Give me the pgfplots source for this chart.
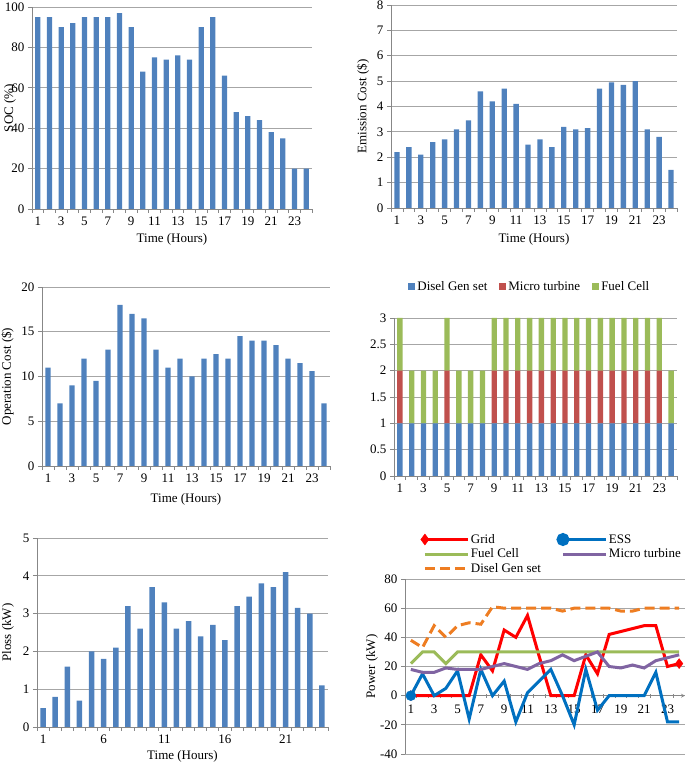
\documentclass[border=0pt]{standalone}
\usepackage{fontspec}
\setmainfont{Liberation Serif}
\usepackage{pgfplots}
\usepackage{pgfplotstable}
\pgfplotsset{compat=1.18}

\definecolor{barblue}{HTML}{4F81BD}
\definecolor{barred}{HTML}{C0504D}
\definecolor{bargreen}{HTML}{9BBB59}
\definecolor{essblue}{HTML}{0070C0}
\definecolor{mtpurple}{HTML}{8064A2}
\definecolor{dgorange}{HTML}{EE7D22}
\definecolor{gridgray}{HTML}{A6A6A6}
\definecolor{axgray}{HTML}{878787}

\newcommand{\cf}{\fontsize{13}{15}\selectfont}

% hourly bar data
\pgfplotstableread{
h soc emis op   ploss dg mt fc
1  95 2.2  11   0.5   1  1  1
2  95 2.4  7    0.8   1  0  1
3  90 2.1  9    1.6   1  0  1
4  92 2.6  12   0.7   1  0  1
5  95 2.7  9.5  2.0   1  1  1
6  95 3.1  13   1.8   1  0  1
7  95 3.45 18   2.1   1  0  1
8  97 4.6  17   3.2   1  0  1
9  90 4.2  16.5 2.6   1  1  1
10 68 4.7  13   3.7   1  1  1
11 75 4.1  11   3.3   1  1  1
12 74 2.5  12   2.6   1  1  1
13 76 2.7  10   2.8   1  1  1
14 74 2.4  12   2.4   1  1  1
15 90 3.2  12.5 2.7   1  1  1
16 95 3.1  12   2.3   1  1  1
17 66 3.15 14.5 3.2   1  1  1
18 48 4.7  14   3.45  1  1  1
19 46 4.95 14   3.8   1  1  1
20 44 4.85 13.5 3.7   1  1  1
21 38 5.0  12   4.1   1  1  1
22 35 3.1  11.5 3.15  1  1  1
23 20 2.8  10.6 3.0   1  1  1
24 20 1.5  7    1.1   1  0  1
}\bars

% power dispatch
\pgfplotstableread{
h grid ess fc mt dg
1  0   0   22 18 38
2  0   15  30 16 33
3  0   0   30 16 48
4  0   5   22 19 40
5  0   17  30 18 48
6  0   -16 30 18 50
7  28  18  30 18 49
8  17  0   30 20 61
9  45  10  30 22 60
10 40  -18 30 20 60
11 55  2   30 18 60
12 27  10  30 22 60
13 0   18  30 24 60
14 0   0   30 28 58
15 0   -20 30 24 60
16 28  18  30 27 60
17 15  -10 30 30 60
18 42  0   30 20 60
19 44  0   30 19 58
20 46  0   30 21 58
21 48  0   30 19 60
22 48  16  30 24 60
23 20  -18 30 26 60
24 22  -18 30 28 60
}\pw

\pgfplotsset{
  xl/.style={
    scale only axis, anchor=south west,
    xmin=0.5, xmax=24.5,
    axis x line=bottom, axis y line=left,
    axis line style={axgray, line width=0.8pt, -},
    ymajorgrids, grid style={gridgray, line width=0.8pt},
    minor xtick={0.5,1.5,...,24.5},
    major x tick style={draw=none},
    minor x tick style={axgray, line width=0.8pt},
    y tick style={axgray, line width=0.8pt},
    tick align=outside, major tick length=4pt, minor tick length=4pt,
    tick label style={font=\cf},
    label style={font=\cf},
    legend style={font=\cf},
    /pgf/number format/assume math mode=true,
    hide obscured x ticks=false, hide obscured y ticks=false,
  },
  bb/.style={ybar, bar width=0.45, fill=barblue, draw=none},
}

\begin{document}
\begin{tikzpicture}
\path[use as bounding box] (0pt,0pt) rectangle (685pt,763pt);

% SOC
\begin{axis}[xl, at={(32pt,554pt)}, width=280pt, height=202pt,
  ymin=0, ymax=100, ytick={0,20,...,100}, xtick={1,3,...,23},
  ylabel={SOC (\%)}, xlabel={Time (Hours)},
  ylabel style={at={(axis description cs:-0.079,0.5)}, anchor=center},
  xlabel style={at={(axis description cs:0.5,0)}, anchor=center, yshift=-30pt}]
\addplot[bb] table[x=h, y=soc] {\bars};
\end{axis}

% Emission cost
\begin{axis}[xl, at={(391pt,555pt)}, width=286pt, height=203pt,
  ymin=0, ymax=8, ytick={0,1,...,8}, xtick={1,3,...,23},
  ylabel={Emission Cost (\$)}, xlabel={Time (Hours)},
  ylabel style={at={(axis description cs:-0.098,0.5)}, anchor=center},
  xlabel style={at={(axis description cs:0.5,0)}, anchor=center, yshift=-31pt}]
\addplot[bb] table[x=h, y=emis] {\bars};
\end{axis}

% Operation cost
\begin{axis}[xl, at={(42pt,297pt)}, width=288pt, height=179pt,
  ymin=0, ymax=20, ytick={0,5,...,20}, xtick={1,3,...,23},
  ylabel={Operation Cost (\$)}, xlabel={Time (Hours)},
  ylabel style={at={(axis description cs:-0.12,0.5)}, anchor=center},
  xlabel style={at={(axis description cs:0.5,0)}, anchor=center, yshift=-33pt}]
\addplot[bb] table[x=h, y=op] {\bars};
\end{axis}

% Unit status (stacked)
\begin{axis}[xl, at={(394pt,287pt)}, width=283pt, height=158pt,
  ybar stacked, bar width=0.45,
  ymin=0, ymax=3, ytick={0,0.5,1,1.5,2,2.5,3}, xtick={1,3,...,23},
  legend columns=3,
  legend style={draw=none, at={(0.48,1)}, anchor=south, yshift=22pt,
    /tikz/every even column/.append style={column sep=10pt}},
  legend image code/.code={\fill[#1] (0pt,-3.5pt) rectangle (7pt,3.5pt);}]
\addplot[fill=barblue, draw=none] table[x=h, y=dg] {\bars};
\addlegendentry{Disel Gen set}
\addplot[fill=barred, draw=none] table[x=h, y=mt] {\bars};
\addlegendentry{Micro turbine}
\addplot[fill=bargreen, draw=none] table[x=h, y=fc] {\bars};
\addlegendentry{Fuel Cell}
\end{axis}

% Ploss
\begin{axis}[xl, at={(37pt,36pt)}, width=291pt, height=189pt,
  ymin=0, ymax=5, ytick={0,1,...,5}, xtick={1,6,11,16,21},
  ylabel={Ploss (kW)}, xlabel={Time (Hours)},
  ylabel style={at={(axis description cs:-0.1,0.5)}, anchor=center},
  xlabel style={at={(axis description cs:0.5,0)}, anchor=center, yshift=-29pt}]
\addplot[bb] table[x=h, y=ploss] {\bars};
\end{axis}

% Power dispatch
\begin{axis}[xl, at={(405pt,9pt)}, width=280pt, height=175pt,
  axis x line=middle,
  ymin=-40, ymax=80, ytick={-40,-20,...,80}, xtick={1,3,...,23},
  xticklabel style={yshift=-4pt},
  ylabel={Power (kW)},
  ylabel style={at={(axis description cs:-0.118,0.5)}, anchor=center},
  legend columns=2, legend cell align=left,
  legend style={draw=none, fill=none, at={(axis description cs:0.045,1)}, anchor=south west, yshift=1pt,
    nodes={inner xsep=1.5pt},
    /tikz/every even column/.append style={column sep=14pt}},
  legend image code/.code={\draw[#1] (0pt,0pt) -- (43pt,0pt);}]
\addplot[red, line width=3pt, mark=diamond*, mark size=5pt, mark indices={1,24},
  mark options={solid, line width=0.4pt},
  legend image code/.code={\draw[red, line width=3pt] plot[mark=diamond*, mark size=5.5pt,
    mark options={solid, line width=0.4pt}] coordinates {(0pt,0pt) (43pt,0pt)};}]
  table[x=h, y=grid] {\pw};
\addlegendentry{Grid}
\addplot[essblue, line width=3pt, mark=*, mark size=5pt, mark indices={1},
  mark options={solid, line width=0.4pt},
  legend image code/.code={\draw[essblue, line width=3pt] (0pt,0pt) -- (43pt,0pt);
    \fill[essblue] (0pt,0pt) circle (5pt);}]
  table[x=h, y=ess] {\pw};
\addlegendentry{ESS}
\addplot[bargreen, line width=3pt] table[x=h, y=fc] {\pw};
\addlegendentry{Fuel Cell}
\addplot[mtpurple, line width=3pt] table[x=h, y=mt] {\pw};
\addlegendentry{Micro turbine}
\addplot[dgorange, line width=3pt, dash pattern=on 10pt off 5pt] table[x=h, y=dg] {\pw};
\addlegendentry{Disel Gen set}
\end{axis}
\end{tikzpicture}
\end{document}
